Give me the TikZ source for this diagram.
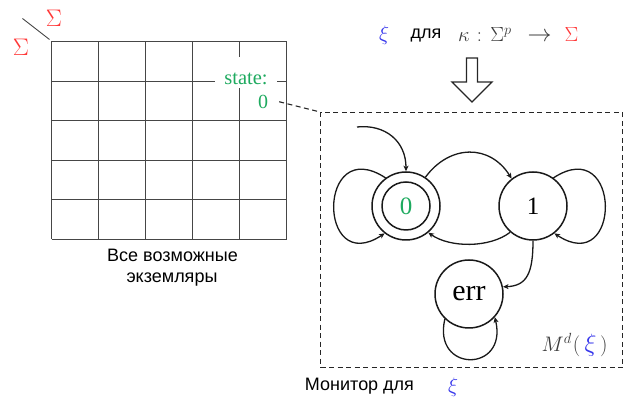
\RequirePackage{fix-cm}
\documentclass[tikz,border=0pt]{standalone}
\usepackage{fontspec}
\usetikzlibrary{arrows.meta}
\newfontfamily\labelfont{Liberation Serif}
\newfontfamily\rutext{Liberation Sans}

\definecolor{sigred}{RGB}{255,55,55}
\definecolor{xiblue}{RGB}{55,55,235}
\definecolor{stgreen}{RGB}{30,170,95}
\definecolor{gridgray}{RGB}{70,70,70}
\definecolor{mathgray}{RGB}{60,60,60}

\tikzset{
  gridline/.style={draw=gridgray, line width=0.9pt},
  state/.style={circle, draw=black!90, line width=1.5pt, minimum size=68pt, inner sep=0pt},
  ring/.style={circle, draw=black!90, line width=1.5pt, minimum size=48pt, inner sep=0pt},
  trans/.style={draw=black!90, line width=1.3pt, -{Stealth[length=5.5pt,width=5pt,inset=1.5pt]}},
  monbox/.style={draw=black!85, line width=1.1pt, dash pattern=on 5pt off 3.5pt},
  ruslabel/.style={font=\rutext\fontsize{18}{22}\selectfont, text=black},
}

\begin{document}
\begin{tikzpicture}[x=1pt,y=1pt]
\useasboundingbox (0,0) rectangle (629,403);

% table of all instances: 5 x 5 grid
\foreach \i in {0,...,5}
  \draw[gridline] ({51.5+47*\i},164) -- ({51.5+47*\i},361.5);
\foreach \j in {0,...,5}
  \draw[gridline] (51.5,{164+39.5*\j}) -- (286.5,{164+39.5*\j});

% corner header with the two alphabets
\coordinate (diagtop) at (22.5,384.5);
\coordinate (diagend) at (49.5,363.5);
\draw[draw=gridgray, line width=0.9pt] (diagtop) -- (diagend);
\node[text=sigred, font=\fontsize{24}{28}\selectfont] (sigtop) at (54,385) {$\Sigma$};
\node[text=sigred, font=\fontsize{24}{28}\selectfont] (sigleft) at (21,356) {$\Sigma$};

% cell content
\node[fill=white, anchor=base, inner xsep=9pt, inner ysep=0pt, text depth=3.5pt, text height=27.5pt,
      text=stgreen, font=\labelfont\fontsize{20.5}{24}\selectfont] (statetxt) at (246,318.5) {state:};
\node[anchor=base, inner xsep=3pt, text=stgreen, font=\labelfont\fontsize{20}{24}\selectfont] (stateval) at (263,294.7) {0};

\node[ruslabel] (allcap1) at (172.5,148) {Все возможные};
\node[ruslabel] (allcap2) at (172,123) {экземляры};

% heading over the monitor
\node[text=xiblue, font=\fontsize{21}{25}\selectfont] (xitop) at (384,368) {$\xi$};
\node[ruslabel] (dlya) at (426,367) {для};
\node[text=mathgray, font=\fontsize{20.5}{24}\selectfont, anchor=west, inner sep=0pt] (kappa) at (458,368)
  {$\kappa\hspace{7pt}{:}\hspace{8.5pt}\Sigma^p$\hspace{16pt}{\fontsize{24}{28}\selectfont$\to$}\hspace{13pt}{\color{sigred}$\Sigma$}};

% hollow block arrow
\draw[line width=1.3pt, draw=black!85, line join=miter]
  (466.5,345) -- (477.5,345) -- (477.5,321) -- (492,321) -- (472,301)
  -- (452,321) -- (466.5,321) -- cycle;

% monitor frame
\node[monbox, anchor=north west, minimum width=302pt, minimum height=255pt, inner sep=0pt] (box) at (320,291) {};
\draw[monbox] (stateval.east) ++(8pt,0) coordinate (valout) (valout) -- (box.north west);

% automaton
\node[state, font=\labelfont\fontsize{25}{30}\selectfont, text=stgreen] (s0) at (406,197) {0};
\node[ring] (s0ring) at (s0) {};
\node[state, font=\labelfont\fontsize{25}{30}\selectfont] (s1) at (533,197) {1};
\node[state, font=\labelfont\fontsize{30}{36}\selectfont] (err) at (469,109) {err};

\coordinate (init) at (357,276);
\draw[trans] (init) .. controls (385,279) and (406,262) .. (s0.north);

\draw[trans] (s0.126) .. controls (317,270) and (317,125) .. (s0.232);
\draw[trans] (s1.54) .. controls (622,270) and (622,125) .. (s1.308);
\draw[trans] (s0.56) .. controls (450,259) and (490,259) .. (s1.128);
\draw[trans] (s1.229) .. controls (490,155) and (450,155) .. (s0.310);
\draw[trans] (s1.south) .. controls (533,130) and (527,117) .. (err.12);
\draw[trans] (err.226) .. controls (432,30) and (508,30) .. (err.318);

\node[text=mathgray, font=\fontsize{21}{25}\selectfont, anchor=west, inner sep=0pt] (mlabel) at (541.5,58)
  {$M^d\hspace{1pt}($\hspace{4.5pt}{\fontsize{25}{30}\selectfont\color{xiblue}$\xi$}\hspace{3.5pt}$)$};

% caption under the monitor
\node[ruslabel] (moncap) at (359.5,17) {Монитор для};
\node[text=xiblue, font=\fontsize{21}{25}\selectfont] (xibot) at (453,16) {$\xi$};
\end{tikzpicture}
\end{document}
